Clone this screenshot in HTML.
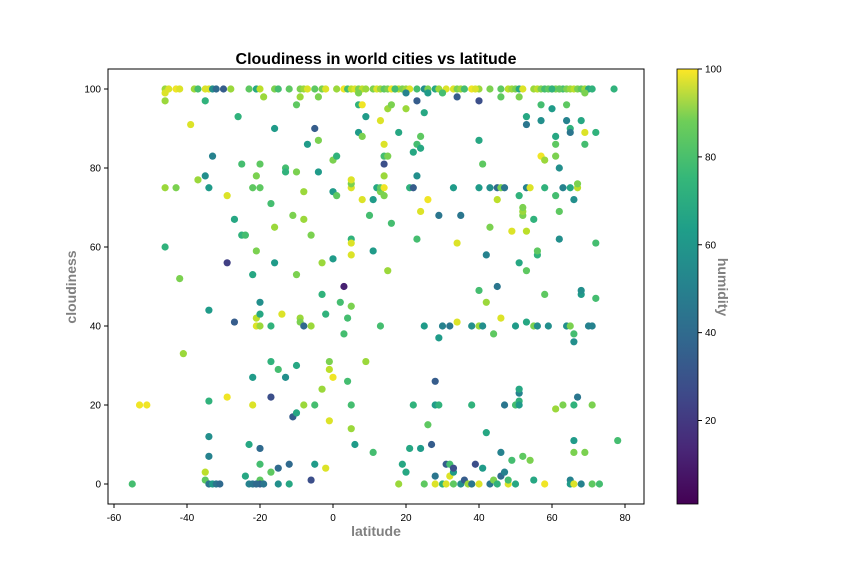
<!DOCTYPE html>
<html><head><meta charset="utf-8"><style>
body{margin:0;background:#fff;}
svg{display:block;font-family:"Liberation Sans",sans-serif;}
</style></head><body>
<svg id="chart" width="864" height="576">
<defs><linearGradient id="vir" x1="0" y1="1" x2="0" y2="0">
<stop offset="0" stop-color="#440154"/><stop offset="0.13" stop-color="#482878"/><stop offset="0.25" stop-color="#3e4989"/><stop offset="0.38" stop-color="#31688e"/><stop offset="0.5" stop-color="#26828e"/><stop offset="0.63" stop-color="#1f9e89"/><stop offset="0.75" stop-color="#35b779"/><stop offset="0.88" stop-color="#6ece58"/><stop offset="1" stop-color="#fde725"/></linearGradient></defs>
<text x="376" y="64" text-anchor="middle" font-size="16" font-weight="bold">Cloudiness in world cities vs latitude</text>
<g id="pts"></g>
<rect x="108" y="69" width="536" height="435" fill="none" stroke="#000" stroke-width="1"/>
<g id="xt"></g>
<g id="yt"></g>
<text x="376" y="536" text-anchor="middle" font-size="14" font-weight="bold" fill="#808080">latitude</text>
<text transform="translate(76,287) rotate(-90)" text-anchor="middle" font-size="14" font-weight="bold" fill="#808080">cloudiness</text>
<rect x="677" y="69" width="21" height="435" fill="url(#vir)" stroke="#000" stroke-width="0.8"/>
<g id="ct"></g>
<text transform="translate(718,287) rotate(90)" text-anchor="middle" font-size="14" font-weight="bold" fill="#808080">humidity</text>
</svg>
<script>
const xTicks=[-60,-40,-20,0,20,40,60,80];
const yTicks=[0,20,40,60,80,100];
const cTicks=[20,40,60,80,100];
const lat=[-46,-45,-43,-42,-38,-37,-35,-34,-33,-32,-30,-28,-23,-21,-20,-16,-15,-12,-9,-8,-7,-5,-3,-2,1,3,4,5,6,7,8,9,11,12,13,14,15,16,17,18,19,20,21,23,25,26,28,29,31,33,34,35,36,38,40,43,46,48,49,50,51,52,55,56,57,58,59,60,61,62,63,64,65,66,67,68,69,70,71,77,
-55,-53,-51,-46,-46,-46,-46,-43,-42,-41,-39,-37,-35,-35,-34,-34,-34,-34,-34,-35,-35,-34,-33,-33,-32,-31,-29,-29,-29,-27,-27,-26,-25,-25,-24,-24,-23,-23,-22,-22,-22,-22,-21,-21,-20,-22,-21,-20,-21,-20,-20,-20,-19,-20,-20,-20,-20,-21,-19,-17,-17,-17,-17,-17,-16,-16,-16,-15,-15,-15,-14,-13,-13,-13,-12,-12,-11,-10,-10,-10,-11,-10,-10,-9,-9,-9,-8,-8,-8,-8,-7,-6,-6,-5,-5,-6,-5,-4,-4,-4,-3,-3,-3,-2,-2,-1,-1,-1,0,0,0,0,1,1,2,3,3,4,4,5,5,5,5,5,5,5,5,5,6,7,7,7,8,8,8,9,9,10,11,11,11,12,13,13,13,13,14,14,14,14,14,14,15,15,15,16,16,17,18,18,19,20,20,20,21,21,22,22,22,23,23,23,23,24,24,24,24,25,25,25,26,26,26,27,28,28,28,28,29,29,29,30,30,30,31,31,32,32,32,33,33,33,33,34,34,34,35,35,36,37,38,38,38,38,39,39,40,40,40,40,40,40,41,41,41,42,42,42,43,43,43,44,44,45,45,45,45,46,46,46,46,46,47,47,47,48,48,49,49,50,50,50,51,51,51,51,51,51,51,52,52,52,52,53,53,53,53,53,53,54,54,55,55,55,56,56,56,57,57,57,58,58,58,58,59,60,60,61,61,61,61,61,62,62,62,63,62,63,64,64,64,65,65,65,65,65,65,66,66,66,66,66,66,66,67,67,67,68,68,68,68,69,69,69,69,70,71,71,71,72,72,72,73,78];
const cloud=[100,100,100,100,100,100,100,100,100,100,100,100,100,100,100,100,100,100,100,100,100,100,100,100,100,100,100,100,100,100,100,100,100,100,100,100,100,100,100,100,100,100,100,100,100,100,100,100,100,100,100,100,100,100,100,100,100,100,100,100,100,100,100,100,100,100,100,100,100,100,100,100,100,100,100,100,100,100,100,100,
0,20,20,60,75,97,99,75,52,33,91,77,78,97,75,44,21,12,7,3,1,0,0,83,0,0,73,56,22,67,41,93,81,63,63,2,10,0,0,53,27,20,42,40,75,75,78,81,59,46,43,40,98,9,5,1,0,0,0,71,40,31,22,3,90,65,56,29,4,0,43,27,80,79,5,0,68,79,53,30,17,18,96,98,42,41,40,20,74,67,86,63,40,20,5,1,90,98,87,79,48,24,56,43,4,16,29,31,27,57,74,82,73,83,46,50,38,42,26,75,76,77,62,61,58,45,20,14,10,89,96,99,72,88,96,31,93,68,8,59,72,75,40,74,75,92,73,75,78,81,83,86,95,54,83,66,96,100,89,0,5,99,95,3,9,75,75,84,20,78,86,97,62,9,85,88,69,0,94,40,99,72,15,10,0,2,26,20,37,68,20,99,0,40,5,0,40,5,2,0,3,4,75,61,98,41,68,0,1,0,0,40,20,0,100,5,49,40,87,97,0,75,40,81,4,46,58,13,0,65,75,38,1,0,72,50,75,2,98,75,42,8,3,75,20,0,1,64,6,20,40,0,73,21,23,24,20,56,98,68,69,70,7,64,54,41,75,91,93,75,6,1,67,40,40,58,59,92,83,96,48,82,0,75,40,100,95,73,19,86,88,83,69,62,80,20,100,75,40,92,96,40,90,89,75,1,0,20,11,8,38,36,72,0,75,22,76,92,48,49,0,89,99,86,8,40,40,0,20,89,61,47,0,11,75];
const hum=[85,95,98,95,85,70,95,95,50,35,30,85,75,60,90,80,70,75,80,85,95,75,80,95,85,98,70,90,95,80,90,85,80,95,85,75,80,98,85,90,80,85,95,70,50,80,60,85,95,95,80,85,70,98,85,80,75,90,85,80,60,95,85,90,80,70,75,85,80,95,70,80,85,90,80,75,85,60,65,65,
70,98,98,65,85,85,95,80,80,85,95,85,50,65,55,55,65,50,45,90,75,40,55,45,40,35,95,20,98,60,30,65,70,65,70,60,60,45,40,60,55,95,90,95,75,75,80,75,80,50,60,85,85,35,70,75,30,35,40,70,65,65,25,75,55,85,55,70,35,50,95,50,70,65,35,60,80,80,80,60,30,60,75,85,85,80,35,85,85,85,55,80,85,70,55,25,30,80,80,55,65,85,85,65,95,95,90,80,98,55,55,80,75,65,70,10,70,70,70,95,80,95,65,95,95,80,70,85,55,55,65,80,95,80,98,85,55,70,70,55,55,60,70,80,75,95,80,98,85,25,70,95,85,85,80,70,80,70,60,85,60,45,85,60,60,65,30,60,65,50,70,30,70,55,60,75,95,75,60,55,55,98,75,30,95,40,30,55,55,40,65,70,65,45,30,95,40,70,95,75,55,25,55,95,30,95,40,50,30,85,95,50,65,40,95,25,70,85,60,25,95,55,50,75,55,85,45,60,40,80,50,75,80,65,90,40,35,35,75,80,95,45,45,40,40,95,70,95,70,70,55,60,65,65,45,60,55,60,80,80,85,80,75,90,75,60,45,40,60,95,80,60,65,80,50,65,75,50,98,70,75,85,98,65,50,65,55,70,85,75,60,80,75,50,50,80,75,45,50,45,75,80,65,40,60,45,55,65,55,80,70,50,50,95,90,40,80,60,55,50,45,95,80,70,80,45,45,75,80,65];
const X=v=>333+v*3.65, Y=v=>484-v*3.95, C=v=>504-(v-1)*(435/99);
const stops=[[68,1,84],[72,40,120],[62,73,137],[49,104,142],[38,130,142],[31,158,137],[53,183,121],[110,206,88],[181,222,43],[253,231,37]];
function vir(v){if(!isFinite(v))v=70;let t=Math.max(0,Math.min(1,(v-1)/99))*(stops.length-1);let i=Math.min(Math.floor(t),stops.length-2),f=t-i;const a=stops[i],b=stops[i+1];return `rgb(${a.map((c,k)=>Math.round(c+(b[k]-c)*f)).join(',')})`;}
const NS="http://www.w3.org/2000/svg";
function mk(tag,attrs,parent){const e=document.createElementNS(NS,tag);for(const k in attrs)e.setAttribute(k,attrs[k]);parent.appendChild(e);return e;}
const ptsG=document.getElementById('pts');
const n=Math.min(lat.length,cloud.length);
for(let i=0;i<n;i++){
 const c=mk('circle',{cx:X(lat[i]),cy:Y(cloud[i]),r:3.6,fill:vir(hum[i])},ptsG);
 
 
}
const xtG=document.getElementById('xt');
xTicks.forEach(v=>{mk('line',{x1:X(v),x2:X(v),y1:504,y2:508,stroke:'#000'},xtG);
 const t=mk('text',{x:X(v),y:521,'text-anchor':'middle','font-size':10},xtG);t.textContent=v;
 
 });
const ytG=document.getElementById('yt');
yTicks.forEach(v=>{mk('line',{x1:104,x2:108,y1:Y(v),y2:Y(v),stroke:'#000'},ytG);
 const t=mk('text',{x:101,y:Y(v)+3.5,'text-anchor':'end','font-size':10},ytG);t.textContent=v;
 
 });
const ctG=document.getElementById('ct');
cTicks.forEach(v=>{mk('line',{x1:698,x2:702,y1:C(v),y2:C(v),stroke:'#000'},ctG);
 const t=mk('text',{x:705,y:C(v)+3.5,'font-size':10},ctG);t.textContent=v;
 
 });
</script>
</body></html>
